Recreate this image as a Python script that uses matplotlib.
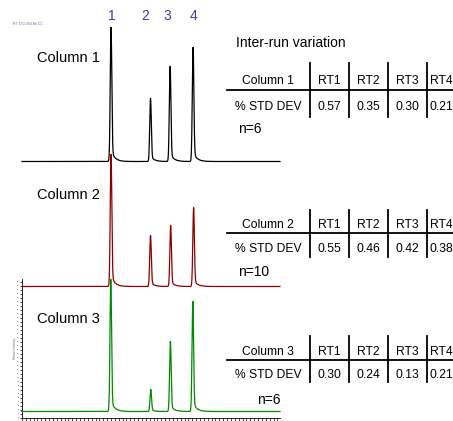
import numpy as np
import matplotlib
matplotlib.use("Agg")
import matplotlib.pyplot as plt
from matplotlib.lines import Line2D
from matplotlib.ticker import MultipleLocator

plt.rcParams['font.family'] = ['Liberation Sans', 'DejaVu Sans']

W, H = 453, 421

# retention times (min) of the four peaks, per column
columns = ["Column 1", "Column 2", "Column 3"]
rt = [
    [3.45, 4.98, 5.74, 6.63],
    [3.45, 4.98, 5.76, 6.65],
    [3.44, 4.99, 5.75, 6.62],
]
# peak heights (arbitrary units)
heights = [
    [134, 63, 95, 114],
    [132, 51, 61, 79],
    [132, 22, 70, 110],
]
offsets = [256.5, 131.5, 6.5]
colors = ["black", "#8b0000", "#008a00"]

rt_names = ["RT1", "RT2", "RT3", "RT4"]
std_dev = [
    ["0.57", "0.35", "0.30", "0.21"],
    ["0.55", "0.46", "0.42", "0.38"],
    ["0.30", "0.24", "0.13", "0.21"],
]
n_runs = ["n=6", "n=10", "n=6"]


def peak(t, tr, h, s=0.03, a=0.09, tau=0.14):
    dt = t - tr
    g = np.exp(-0.5 * (dt / s) ** 2)
    tail = a * np.exp(-np.clip(dt, 0, None) / tau) * 0.5 * (1 + np.tanh(1.3 * dt / s))
    shape = g + tail
    return h * shape / (1 + 0.5 * a)


t = np.linspace(0, 10, 4000)

fig = plt.figure(figsize=(W / 100, H / 100), dpi=100)
ax = fig.add_axes([22 / W, 3 / H, 258 / W, 418 / H])
ax.set_xlim(0, 10)
ax.set_ylim(0, 418)
ax.patch.set_alpha(0)

for i in [2, 1, 0]:
    y = np.full_like(t, offsets[i])
    for tr, h in zip(rt[i], heights[i]):
        y = y + peak(t, tr, h)
    ax.plot(t, y, color=colors[i], lw=0.9, clip_on=False, zorder=3 + (2 - i))

ax.spines['top'].set_visible(False)
ax.spines['right'].set_visible(False)
ax.spines['left'].set_bounds(0, 139)
ax.spines['left'].set_linewidth(0.6)
ax.spines['bottom'].set_linewidth(0.6)
ax.set_yticks(np.arange(0, 140, 4))
ax.set_yticklabels([str(v) for v in range(0, 35)], fontsize=1.5)
ax.xaxis.set_major_locator(MultipleLocator(0.15))
ax.tick_params(axis='both', length=1.8, width=0.5, pad=0.5, labelbottom=False)
ax.text(-0.27, 70, "Relative Intensity", rotation=90, fontsize=2, color="#666666",
        ha='center', va='center')


def px(x, y):
    return x / W, 1 - y / H


def ftext(x, y, s, **kw):
    fig.text(*px(x, y), s, **kw)


def fline(x0, y0, x1, y1, lw=1.0):
    a0, b0 = px(x0, y0)
    a1, b1 = px(x1, y1)
    fig.add_artist(Line2D([a0, a1], [b0, b1], color="black", lw=lw))


ftext(13, 24, "RT 150-300 Bit CC", fontsize=2.5, color="#6a6ab8", va='center')

peak_label_x = [112, 145, 167, 193]
for k, xk in enumerate(peak_label_x):
    ftext(xk, 16, str(k + 1), fontsize=10, color="#3f3fa0", ha='center', va='center')

title_y = [58, 195, 319]
for i, name in enumerate(columns):
    ftext(37, title_y[i], name, fontsize=10.5, va='center')

ftext(236, 43, "Inter-run variation", fontsize=10, va='center')

# table geometry: header y, rule y, data y, vertical top, vertical bottom, n= position
tables = [
    (81, 90, 107, 63, 117, (238, 129)),
    (225, 233, 249, 210, 257, (238, 272)),
    (352, 360, 375, 336, 382, (257, 400)),
]
sep_x = [310, 349, 388, 427]
rt_cx = [329, 368, 407, 441.5]
for i, (hy, ry, dy, vt, vb, npos) in enumerate(tables):
    ftext(268, hy, columns[i], fontsize=8.7, ha='center', va='center')
    ftext(268, dy, "% STD DEV", fontsize=8.7, ha='center', va='center')
    for k in range(4):
        ftext(rt_cx[k], hy, rt_names[k], fontsize=8.7, ha='center', va='center')
        ftext(rt_cx[k], dy, std_dev[i][k], fontsize=8.7, ha='center', va='center')
    fline(227, ry, W, ry, lw=1.3)
    for sx in sep_x:
        fline(sx, vt, sx, vb, lw=1.3)
    ftext(npos[0], npos[1], n_runs[i], fontsize=10, va='center')

fig.savefig("out.png", dpi=100)
